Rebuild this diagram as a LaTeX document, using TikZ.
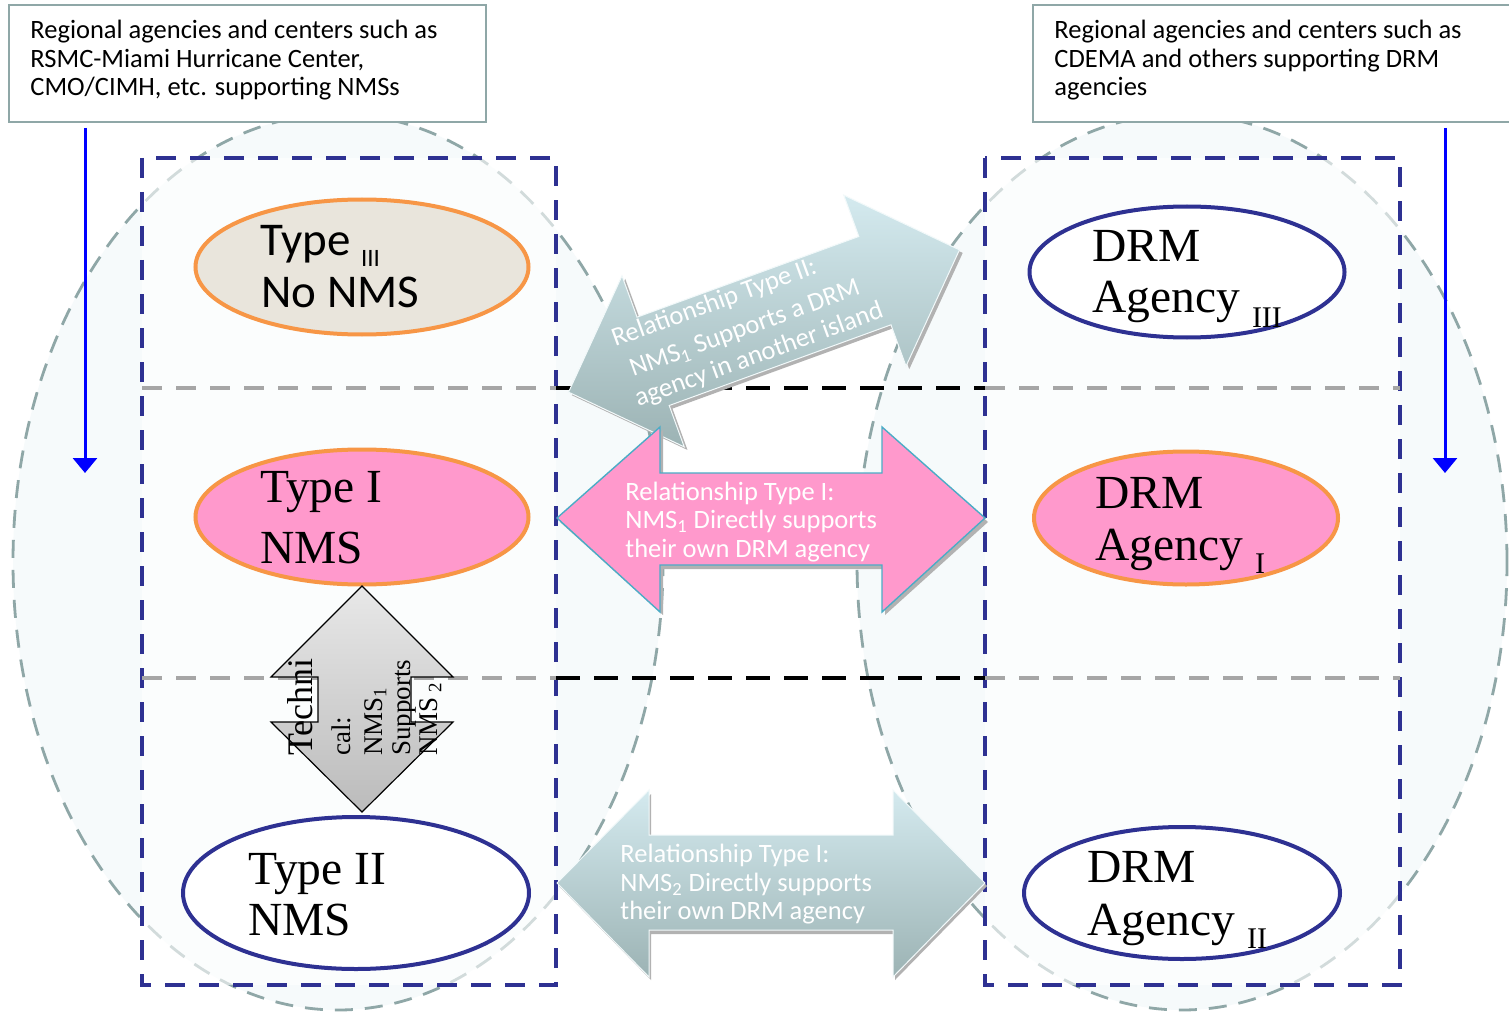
\documentclass[tikz,border=0pt]{standalone}
\usepackage{fontspec}
\setmainfont{Liberation Serif}
\newfontfamily\calib{Carlito}
\usetikzlibrary{shapes.geometric,arrows.meta}
\definecolor{navy}{HTML}{2E3192}
\definecolor{orng}{HTML}{F79646}
\definecolor{pinkf}{HTML}{FF99CC}
\definecolor{beige}{HTML}{E9E5DC}
\definecolor{tealb}{HTML}{4BACC6}
\definecolor{bigdash}{HTML}{8FA7A7}
\definecolor{bigfill}{HTML}{F6FAFB}
\definecolor{arrtop}{HTML}{D4EAEF}
\definecolor{arrbot}{HTML}{9CB3B4}
\definecolor{boxline}{HTML}{8FA7A7}
\definecolor{graydash}{HTML}{A6A6A6}
\definecolor{techtop}{HTML}{E8E8E8}
\definecolor{techbot}{HTML}{BBBBBB}
\newcommand\lsub[3]{\raisebox{-#2}{\fontsize{#3}{#3}\selectfont #1}}
\begin{document}
\begin{tikzpicture}[x=0.5pt,y=-0.5pt,
 region/.style={ellipse, draw=bigdash, fill=bigfill, line width=1.4pt, dash pattern=on 9pt off 6pt, minimum width=325pt, minimum height=448pt, inner sep=0pt},
 zone/.style={draw=navy, line width=2.2pt, dash pattern=on 10pt off 7pt, fill=white, fill opacity=0.6},
 hgray/.style={draw=graydash, line width=2pt, dash pattern=on 10pt off 7pt},
 hblack/.style={draw=black, line width=2pt, dash pattern=on 12pt off 7pt},
 topbox/.style={draw=boxline, line width=0.9pt, fill=white},
 flow/.style={draw=blue, line width=1.5pt, -{Triangle[width=12pt,length=7.5pt]}},
 orgO/.style={ellipse, draw=orng, line width=2pt, inner sep=0pt},
 orgN/.style={ellipse, draw=navy, line width=2pt, fill=white, inner sep=0pt},
 btxt/.style={font=\calib\fontsize{13.25}{14.25}\selectfont, anchor=base west, inner sep=0pt},
 wtxt/.style={btxt, text=white},
 serifL/.style={font=\fontsize{23.75}{25}\selectfont, anchor=base west, inner sep=0pt},
 sansL/.style={font=\calib\fontsize{23.5}{25}\selectfont, anchor=base west, inner sep=0pt},
 ttxt/.style={font=\fontsize{13.5}{15}\selectfont, anchor=base west, inner sep=0pt, rotate=90},
 shadowc/.style={fill=black!30},
]
\clip (0,0) rectangle (1509,1016);
\fill[white] (0,0) rectangle (1509,1016);

% big regions
\node[region] (regL) at (338,562) {};
\node[region] (regR) at (1182,562) {};

% dashed zone boxes
\draw[zone] (142,158) rectangle (556,985);
\draw[zone] (985,158) rectangle (1400,985);

% horizontal separators
\draw[hgray] (142,388) -- (556,388);
\draw[hblack] (556,388) -- (985,388);
\draw[hgray] (985,388) -- (1400,388);
\draw[hgray] (142,678) -- (556,678);
\draw[hblack] (556,678) -- (985,678);
\draw[hgray] (985,678) -- (1400,678);

% top boxes
\draw[topbox] (9,5) rectangle (486,122);
\node[btxt] (tl1) at (30,39) {Regional agencies and centers such as};
\node[btxt] (tl2) at (30,68) {RSMC-Miami Hurricane Center,};
\node[btxt] (tl3) at (30,96) {CMO/CIMH, etc. supporting NMSs};
\draw[topbox] (1033,5) rectangle (1515,122);
\node[btxt] (tr1) at (1054,39) {Regional agencies and centers such as};
\node[btxt] (tr2) at (1054,68) {CDEMA and others supporting DRM};
\node[btxt] (tr3) at (1054,96) {agencies};

% blue flow arrows
\coordinate (fl0) at (85,128);
\coordinate (fl1) at (85,473);
\coordinate (fr0) at (1445,128);
\coordinate (fr1) at (1445,473);
\draw[flow] (fl0) -- (fl1);
\draw[flow] (fr0) -- (fr1);

% ellipses
\node[orgO, fill=beige, minimum width=166.5pt, minimum height=67.5pt] (e3) at (362,267) {};
\node[orgO, fill=pinkf, minimum width=166.5pt, minimum height=67.5pt] (e1) at (362,517) {};
\node[orgN, minimum width=173pt, minimum height=76pt] (e2) at (356,893) {};
\node[orgN, minimum width=157.5pt, minimum height=65.5pt] (d3) at (1187,272) {};
\node[orgO, fill=pinkf, minimum width=152pt, minimum height=66.5pt] (d1) at (1186,518) {};
\node[orgN, minimum width=158pt, minimum height=66pt] (d2) at (1182,893) {};

\node[sansL] (e3a) at (260,256) {Type \lsub{III}{5.5pt}{12.5}};
\node[sansL] (e3b) at (261,307) {No NMS};
\node[serifL] (e1a) at (260,502) {Type I};
\node[serifL] (e1b) at (260,563) {NMS};
\node[serifL] (e2a) at (248,884) {Type II};
\node[serifL] (e2b) at (248,935) {NMS};
\node[serifL] (d3a) at (1092,262) {DRM};
\node[serifL] (d3b) at (1092,313) {Agency \lsub{III}{7pt}{15}};
\node[serifL] (d1a) at (1095,508) {DRM};
\node[serifL] (d1b) at (1095,560) {Agency \lsub{I}{6.5pt}{15}};
\node[serifL] (d2a) at (1087,882) {DRM};
\node[serifL] (d2b) at (1087,935) {Agency \lsub{II}{6.5pt}{15}};

% technical arrow (vertical double arrow)
\shade[top color=techtop, bottom color=techbot, draw=black, line width=0.6pt]
  (362,586) -- (453,677) -- (411,677) -- (411,722) -- (453,722) -- (362,812)
  -- (271,722) -- (318,722) -- (318,677) -- (271,677) -- cycle;
\node[ttxt, font=\fontsize{18}{18}\selectfont] (tc1) at (312,756) {Techni};
\node[ttxt] (tc2) at (350,756) {cal:};
\node[ttxt] (tc3) at (382,756) {NMS\textsubscript{1}};
\node[ttxt] (tc4) at (410,756) {Supports};
\node[ttxt] (tc5) at (437,756) {NMS\,\textsubscript{2}};

% diagonal arrow: relationship type II
\begin{scope}[shift={(764,321)}, rotate=20]
\fill[shadowc] (-206,4) -- (-116,-87) -- (-116,-43) -- (120,-43) -- (120,-87) -- (210,4)
  -- (120,95) -- (120,51) -- (-116,51) -- (-116,95) -- cycle;
\shade[top color=arrtop, bottom color=arrbot, draw=white!70!arrtop, line width=0.5pt]
  (-208,0) -- (-118,-91) -- (-118,-47) -- (118,-47) -- (118,-91) -- (208,0)
  -- (118,91) -- (118,47) -- (-118,47) -- (-118,91) -- cycle;
\end{scope}
\node[wtxt, rotate=20] (rt1) at (615,347) {Relationship Type II:};
\node[wtxt, rotate=20] (rt2) at (633,377) {NMS\textsubscript{1} Supports a DRM};
\node[wtxt, rotate=20] (rt3) at (638,407) {agency in another island};

% pink arrow: relationship type I (NMS1)
\fill[shadowc] (560,522) -- (663,430) -- (663,476) -- (885,476) -- (885,430) -- (988,522)
  -- (885,615) -- (885,569) -- (663,569) -- (663,615) -- cycle;
\draw[draw=tealb, line width=0.7pt, fill=pinkf]
  (557,518) -- (660,427) -- (660,473) -- (882,473) -- (882,427) -- (985,518)
  -- (882,612) -- (882,565) -- (660,565) -- (660,612) -- cycle;
\node[wtxt] (p1) at (625,500) {Relationship Type I:};
\node[wtxt] (p2) at (625,528) {NMS\textsubscript{1} Directly supports};
\node[wtxt] (p3) at (625,557) {their own DRM agency};

% bottom arrow: relationship type I (NMS2)
\fill[shadowc] (559,886) -- (651,794) -- (651,839) -- (895,839) -- (895,794) -- (987,886)
  -- (895,980) -- (895,934) -- (651,934) -- (651,980) -- cycle;
\shade[top color=arrtop, bottom color=arrbot, draw=white!70!arrtop, line width=0.5pt]
  (557,883) -- (649,790) -- (649,835) -- (893,835) -- (893,790) -- (985,883)
  -- (893,977) -- (893,930) -- (649,930) -- (649,977) -- cycle;
\node[wtxt] (b1) at (620,862) {Relationship Type I:};
\node[wtxt] (b2) at (620,891) {NMS\textsubscript{2} Directly supports};
\node[wtxt] (b3) at (620,919) {their own DRM agency};
\end{tikzpicture}
\end{document}
